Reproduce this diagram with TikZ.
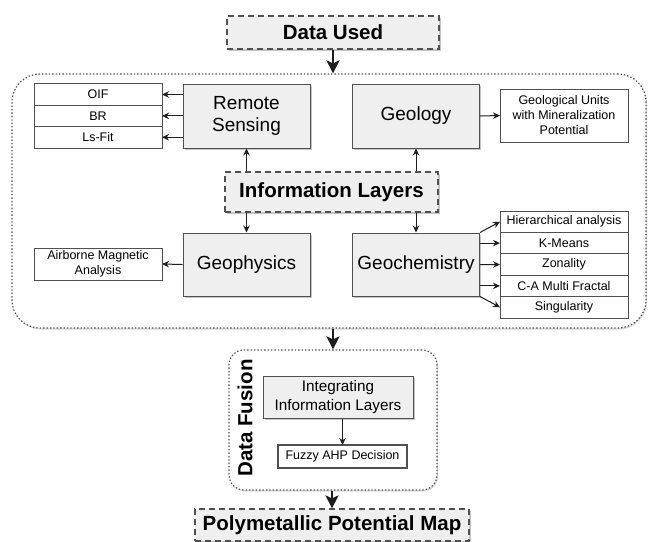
\documentclass[tikz,border=0pt]{standalone}
\usepackage{fontspec}
\setmainfont{Liberation Sans}
\usetikzlibrary{arrows.meta,positioning,shadows}

\definecolor{boxline}{HTML}{505050}
\definecolor{boxfill}{HTML}{EFEFEF}
\definecolor{arrowc}{HTML}{1E1E1E}

\begin{document}
\begin{tikzpicture}[x=1pt,y=-1pt,>={Stealth[length=7pt,width=6.5pt]},
  boxshadow/.style={drop shadow={shadow xshift=1.8pt,shadow yshift=-1.8pt,fill=black!45,opacity=.5}},
  block/.style={draw=boxline,line width=1pt,fill=boxfill,boxshadow,minimum width=127pt,
    minimum height=64pt,align=center,inner sep=0pt,font=\fontsize{19}{22}\selectfont},
  item/.style={draw=boxline,line width=1pt,fill=white,minimum width=128pt,minimum height=21.4pt,
    inner sep=0pt,outer sep=0pt,align=center,font=\fontsize{12.5}{15}\selectfont},
  headbox/.style={draw=boxline,line width=1.2pt,dash pattern=on 6pt off 4pt,fill=boxfill,
    boxshadow,inner sep=0pt,font=\bfseries\fontsize{20.5}{24}\selectfont},
  panel/.style={draw=boxline,line width=1.2pt,dash pattern=on 1.4pt off 2pt,fill=white,
    drop shadow={shadow xshift=1pt,shadow yshift=-1.5pt,fill=black!30,opacity=.5}},
  link/.style={->,draw=arrowc,line width=1pt},
  bigarrow/.style={draw=arrowc,line width=2.6pt,-{Stealth[length=13pt,width=13pt,inset=3pt]}}]

\useasboundingbox (0,0) rectangle (650,541);

% outer panels
\node[panel,rounded corners=28pt,minimum width=634pt,minimum height=254pt] (layers) at (329,201) {};
\node[panel,rounded corners=15pt,minimum width=208pt,minimum height=140pt] (fusion) at (333,420) {};

% stage titles
\node[headbox,minimum width=212pt,minimum height=33pt] (used) at (333,32.5) {Data Used};
\node[headbox,minimum width=213pt,minimum height=40pt] (infol) at (331.5,192) {Information Layers};
\node[headbox,minimum width=274pt,minimum height=32pt] (potmap) at (332,525) {Polymetallic Potential Map};

% information layers
\node[block] (remote) at (246.5,116) {Remote\\Sensing};
\node[block] (geology) at (416,116) {Geology};
\node[block,minimum height=63pt] (geophys) at (246.5,264.5) {Geophysics};
\node[block,minimum height=63pt] (geochem) at (416,264.5) {Geochemistry};

% remote sensing outputs
\node[item] (oif) at (98,94.5) {OIF};
\node[item] (br) [below=0pt of oif] {BR};
\node[item] (lsfit) [below=0pt of br] {Ls-Fit};

\node[item,minimum height=53pt] (units) at (564,115.5) {Geological Units\\with Mineralization\\Potential};
\node[item,minimum height=32pt] (airmag) at (98,264) {Airborne Magnetic\\Analysis};

% geochemistry outputs
\node[item] (hier) at (564,221.7) {Hierarchical analysis};
\node[item] (kmeans) [below=0pt of hier] {K-Means};
\node[item] (zonal) [below=0pt of kmeans] {Zonality};
\node[item] (camf) [below=0pt of zonal] {C-A Multi Fractal};
\node[item] (singul) [below=0pt of camf] {Singularity};

% data fusion
\node[rotate=90,font=\bfseries\fontsize{20.5}{24}\selectfont] (fustitle) at (245,418) {Data Fusion};
\node[block,minimum width=150pt,minimum height=42pt,font=\fontsize{15.3}{18.7}\selectfont] (integ) at (338,397) {Integrating\\Information Layers};
\node[item,minimum width=129pt,minimum height=23pt,line width=1.2pt] (fuzzy) at (342.5,456.5) {Fuzzy AHP Decision};

\draw[bigarrow] (used.south) -- (used.south |- layers.north);
\draw[bigarrow] (layers.south -| fusion.north) -- (fusion.north);
\draw[bigarrow] (fusion.south -| potmap.north) -- (potmap.north);

\path
  (remote.west |- oif) edge[link] (oif.east)
  (remote.west |- br) edge[link] (br.east)
  (remote.west |- lsfit) edge[link] (lsfit.east)
  (geology.east) edge[link] (units.west)
  (infol.north -| remote.south) edge[link] (remote.south)
  (infol.north -| geology.south) edge[link] (geology.south)
  (infol.south -| geophys.north) edge[link] (geophys.north)
  (infol.south -| geochem.north) edge[link] (geochem.north)
  (geophys.west) edge[link] (airmag.east)
  (geochem.north east) edge[link] (hier.west)
  (geochem.east |- kmeans) edge[link] (kmeans.west)
  (geochem.east) edge[link] (zonal.west)
  (geochem.east |- camf) edge[link] (camf.west)
  (geochem.south east) edge[link] (singul.west)
  (integ.south -| fuzzy.north) edge[link] (fuzzy.north);

\end{tikzpicture}
\end{document}
